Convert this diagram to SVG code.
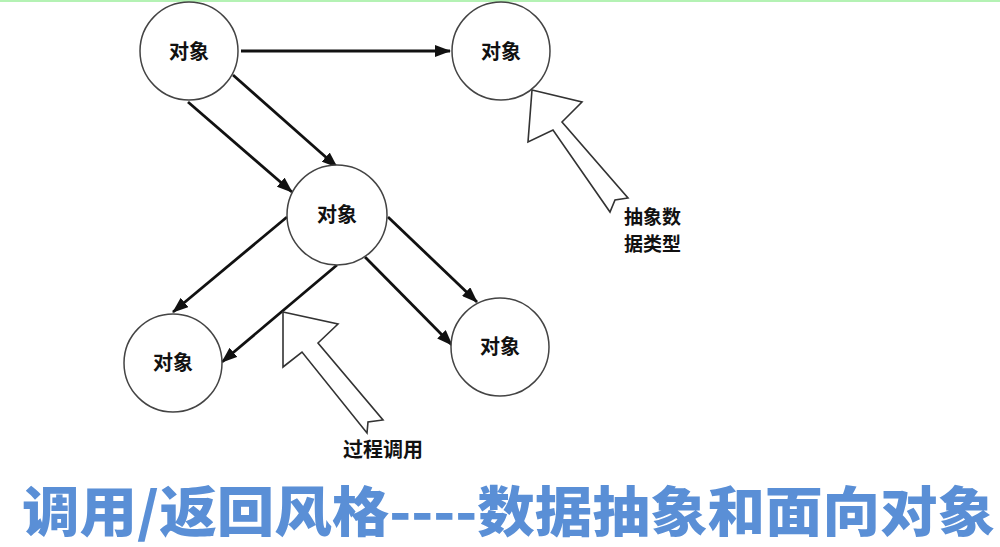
<svg xmlns="http://www.w3.org/2000/svg" width="1000" height="547" viewBox="0 0 1000 547">
<style>
.node{fill:#fff;stroke:#444;stroke-width:1.5}
.lbl{font-family:"Noto Sans CJK SC","Noto Sans",sans-serif;font-weight:bold;font-size:20px;fill:#111}
.sm{font-size:19px}
.edge{stroke:#111;stroke-width:2.8;fill:none;marker-end:url(#ah)}
.block{fill:#fff;stroke:#333;stroke-width:1.6;stroke-linejoin:miter}
.title{font-family:"Noto Sans CJK SC","Noto Sans",sans-serif;font-weight:900;font-size:54px;fill:#5a8fd6}
</style>
<defs>
<marker id="ah" markerWidth="16" markerHeight="12" refX="15" refY="6" orient="auto" markerUnits="userSpaceOnUse">
<path d="M0,0 L16,6 L0,12 Z" fill="#111"/>
</marker>
</defs>
<rect width="1000" height="547" fill="#fff"/>
<rect x="0" y="0" width="1000" height="2" fill="#b4f2b4"/>
<g id="connectors">
<line class="edge" x1="241" y1="51" x2="450" y2="51"/>
<line class="edge" x1="188" y1="102" x2="292" y2="192"/>
<line class="edge" x1="233" y1="75" x2="337" y2="167"/>
<line class="edge" x1="287" y1="217" x2="173" y2="312"/>
<line class="edge" x1="337" y1="265" x2="222" y2="362"/>
<line class="edge" x1="388" y1="217" x2="477" y2="302"/>
<line class="edge" x1="365" y1="257" x2="452" y2="345"/>
</g>
<g id="nodeA"><circle class="node" cx="189" cy="51" r="49"/><text class="lbl" x="189" y="59" text-anchor="middle">对象</text></g>
<g id="nodeB"><circle class="node" cx="501" cy="51" r="49"/><text class="lbl" x="501" y="59" text-anchor="middle">对象</text></g>
<g id="nodeC"><circle class="node" cx="337" cy="215" r="50"/><text class="lbl" x="337" y="222" text-anchor="middle">对象</text></g>
<g id="nodeD"><circle class="node" cx="173" cy="363" r="49"/><text class="lbl" x="173" y="370" text-anchor="middle">对象</text></g>
<g id="nodeE"><circle class="node" cx="500" cy="347" r="49"/><text class="lbl" x="500" y="354" text-anchor="middle">对象</text></g>
<g id="adt-pointer">
<polygon class="block" points="532,90 582,102 562,122 628,198 615,200 610,212 553,130 528,142"/>
<text class="lbl sm" x="624" y="224">抽象数</text>
<text class="lbl sm" x="624" y="251">据类型</text>
</g>
<g id="call-pointer">
<polygon class="block" points="283,312 338,324 318,343 383,420 368,422 367,433 302,352 283,367"/>
<text class="lbl" x="343" y="457">过程调用</text>
</g>
<text class="title" x="22" y="532" textLength="973" lengthAdjust="spacingAndGlyphs">调用/返回风格----数据抽象和面向对象</text>
</svg>
